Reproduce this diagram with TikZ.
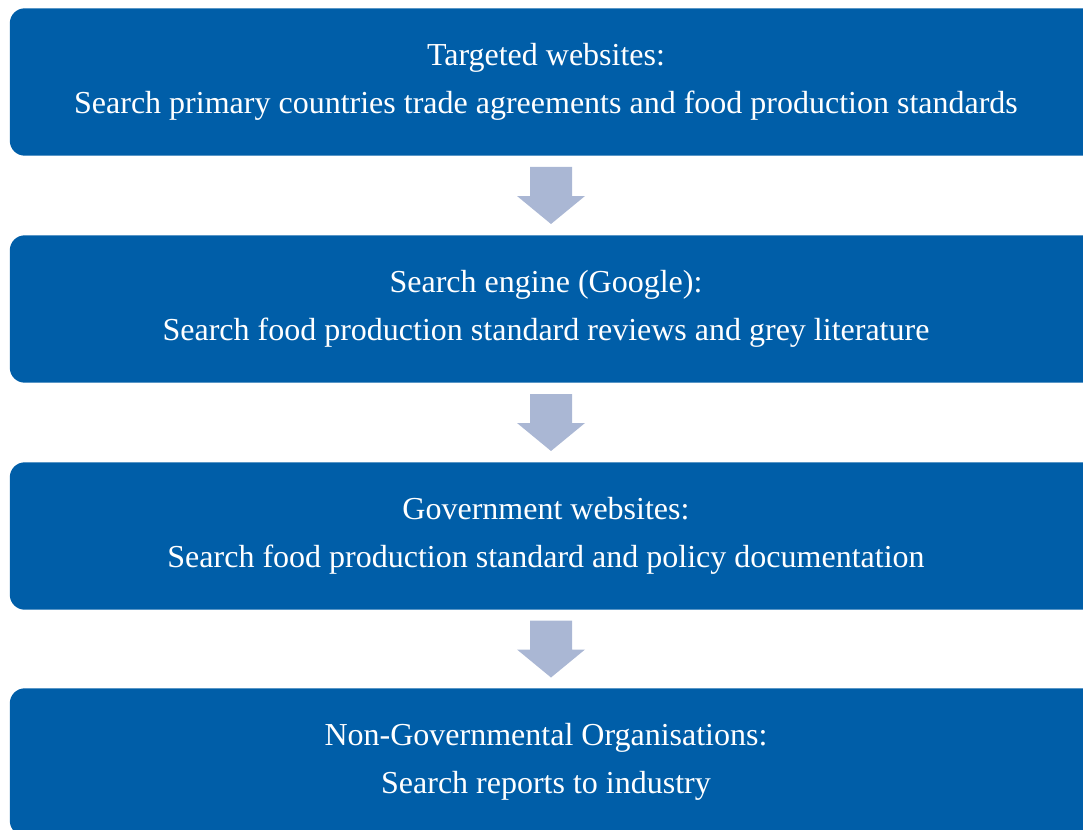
\documentclass[tikz,border=0pt]{standalone}
\usepackage{fontspec}
\setmainfont{Liberation Serif}
\usetikzlibrary{calc,backgrounds}
\definecolor{boxblue}{RGB}{0,94,168}
\definecolor{arrowblue}{RGB}{170,183,212}

\begin{document}
\begin{tikzpicture}[x=1pt,y=-1pt,
    stage/.style={minimum width=1072pt, minimum height=147pt, inner sep=0pt,
        text=white, align=center, font=\fontsize{32}{48}\selectfont},
    flowarrow/.style={fill=arrowblue}]
    \useasboundingbox (0,0) rectangle (1083,829);
    \clip (0,0) rectangle (1083,829);

    % Search steps
    \node[stage] (box1) at (546,82) {Targeted websites:\\Search primary countries trade agreements and food production standards};
    \node[stage] (box2) at (546,309) {Search engine (Google):\\Search food production standard reviews and grey literature};
    \node[stage] (box3) at (546,536) {Government websites:\\Search food production standard and policy documentation};
    \node[stage] (box4) at (546,762) {Non-Governmental Organisations:\\Search reports to industry};

    % Box fills, cut off on the right
    \begin{scope}[on background layer]
    \foreach \b in {box1,box2,box3,box4}
        \fill[boxblue, rounded corners=15pt] (\b.north west) rectangle ($(\b.south east)+(30,0)$);
    \end{scope}

    % Block arrows
    \foreach \a/\b in {box1/box2,box2/box3,box3/box4}{
        \coordinate (\a-\b) at ($(\a.south)!0.5!(\b.north)+(5,0)$);
        \fill[flowarrow] ($(\a-\b)+(-21,-28.5)$) -- ++(42,0) -- ++(0,29) -- ++(13,0)
            -- ($(\a-\b)+(0,28.5)$) -- ($(\a-\b)+(-34,0.5)$) -- ++(13,0) -- cycle;
    }
\end{tikzpicture}
\end{document}
